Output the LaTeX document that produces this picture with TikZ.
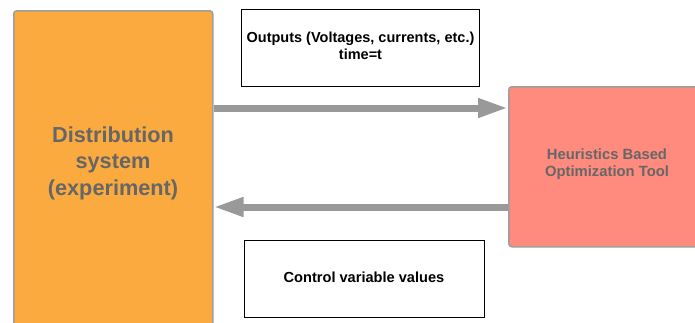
\documentclass[tikz,border=0pt]{standalone}
\usepackage{fontspec}
\setmainfont{Liberation Sans}
\usetikzlibrary{arrows.meta}
\definecolor{orangebox}{RGB}{251,170,64}
\definecolor{salmonbox}{RGB}{255,139,126}
\definecolor{bordergray}{RGB}{158,158,158}
\definecolor{arrowgray}{RGB}{153,153,153}
\definecolor{textgray}{RGB}{102,102,102}
\tikzset{
  bigbox/.style={draw=bordergray, line width=1.5pt, rounded corners=3pt, anchor=north west, inner sep=0pt},
  labelbox/.style={draw=black, line width=1pt, fill=white, anchor=north west, inner sep=0pt},
  arr/.style={draw=arrowgray, line width=7pt, -{Triangle[length=30pt,width=18pt]}},
}
\begin{document}
\begin{tikzpicture}[x=1pt,y=-1pt]
\useasboundingbox (0,0) rectangle (695,322);
\clip (0,0) rectangle (695,322);
\fill[white] (0,0) rectangle (695,322);
% left box
\node[bigbox, fill=orangebox, minimum width=199pt, minimum height=330pt] (left) at (13,10) {};
\node[text=textgray, font=\fontsize{21.7}{26.5}\selectfont\bfseries, align=center] (lefttxt) at (113,163) {Distribution\\system\\(experiment)};
% right box
\node[bigbox, fill=salmonbox, minimum width=200pt, minimum height=160pt] (right) at (508,86) {};
\node[text=textgray, font=\fontsize{14.8}{17}\selectfont\bfseries, align=center] (righttxt) at (607,164) {Heuristics Based\\Optimization Tool};
% label boxes
\node[labelbox, minimum width=238pt, minimum height=77pt] (outbox) at (241,9) {};
\node[font=\fontsize{14.5}{17}\selectfont\bfseries, align=center] (outtxt) at (360.5,46) {Outputs (Voltages, currents, etc.)\\time=t};
\node[labelbox, minimum width=240pt, minimum height=77pt] (ctrlbox) at (244,240) {};
\node[font=\fontsize{14.6}{17}\selectfont\bfseries] (ctrltxt) at (364,277) {Control variable values};
% arrows
\draw[arr] (left.east |- 0,108) -- (right.west |- 0,108);
\draw[arr] (right.west |- 0,207) -- (left.east |- 0,207);
\end{tikzpicture}
\end{document}
